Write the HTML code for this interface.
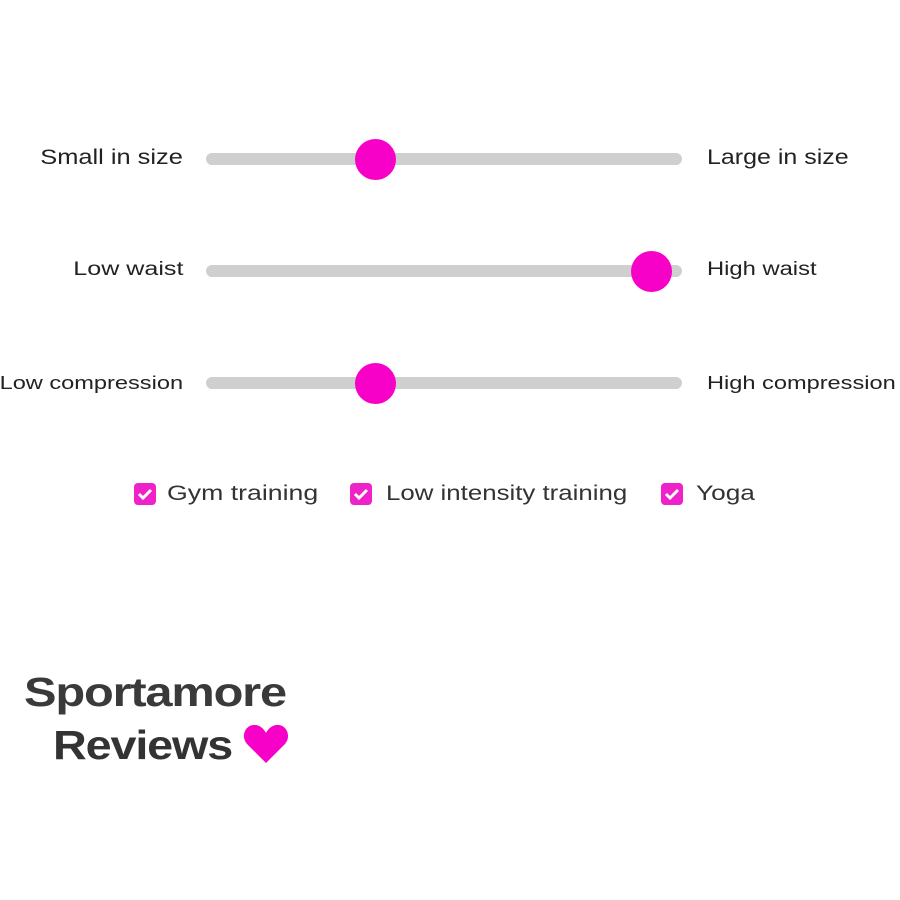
<!DOCTYPE html>
<html><head><style>
body{margin:0;width:900px;height:900px;background:#fff;position:relative;overflow:hidden;font-family:"Liberation Sans",sans-serif;}
.t{position:absolute;left:206px;width:476px;height:12px;background:#cfcfcf;border-radius:6px;}
.th{position:absolute;width:41px;height:41px;border-radius:50%;background:#f700c8;}
.l{position:absolute;font-size:21px;color:#222;line-height:24px;white-space:nowrap;}
.r{text-align:right;right:717px;transform-origin:right center;}
.lf{left:707px;transform-origin:left center;}
.cb{position:absolute;top:483px;width:22px;height:22px;border-radius:4px;background:#ee22c8;}
.cb svg{position:absolute;left:3px;top:4px}
.ct{position:absolute;top:482px;font-size:21px;color:#333;line-height:24px;white-space:nowrap;transform-origin:left center;}
</style></head><body>
<div class="t" style="top:153px"></div><div class="th" style="left:355px;top:139px"></div>
<div class="t" style="top:265px"></div><div class="th" style="left:631px;top:251px"></div>
<div class="t" style="top:377px"></div><div class="th" style="left:355px;top:363px"></div>
<div class="l r" style="top:146px;transform:scaleX(1.21)">Small in size</div>
<div class="l lf" style="top:146px;transform:scaleX(1.19)">Large in size</div>
<div class="l r" style="top:258px;font-size:19px;transform:scaleX(1.32)">Low waist</div>
<div class="l lf" style="top:258px;font-size:19px;transform:scaleX(1.25)">High waist</div>
<div class="l r" style="top:371px;font-size:18px;transform:scaleX(1.31)">Low compression</div>
<div class="l lf" style="top:371px;font-size:18px;transform:scaleX(1.31)">High compression</div>
<div class="cb" style="left:134px"><svg width="16" height="14"><path d="M2 7 L6 11 L14 3" stroke="#fff" stroke-width="3" fill="none"/></svg></div>
<div class="ct" style="left:167px;transform:scaleX(1.27)">Gym training</div>
<div class="cb" style="left:350px"><svg width="16" height="14"><path d="M2 7 L6 11 L14 3" stroke="#fff" stroke-width="3" fill="none"/></svg></div>
<div class="ct" style="left:386px;transform:scaleX(1.23)">Low intensity training</div>
<div class="cb" style="left:661px"><svg width="16" height="14"><path d="M2 7 L6 11 L14 3" stroke="#fff" stroke-width="3" fill="none"/></svg></div>
<div class="ct" style="left:696px;transform:scaleX(1.25)">Yoga</div>
<div style="position:absolute;left:24px;top:668px;font-size:41px;font-weight:bold;color:#3a3a3a;letter-spacing:-1px;line-height:48px;transform:scaleX(1.19);transform-origin:left center;white-space:nowrap">Sportamore</div>
<div style="position:absolute;left:53px;top:721px;font-size:41px;font-weight:bold;color:#333;letter-spacing:-1px;line-height:48px;transform:scaleX(1.14);transform-origin:left center;white-space:nowrap">Reviews</div>
<svg style="position:absolute;left:243px;top:724px" width="46" height="40" viewBox="0 0 46 40"><path d="M23 39 L4 20 C-3 12 3 0 12 1 C17 1 21 5 23 9 C25 5 29 1 34 1 C43 0 49 12 42 20 Z" fill="#f700c8"/></svg>
</body></html>
